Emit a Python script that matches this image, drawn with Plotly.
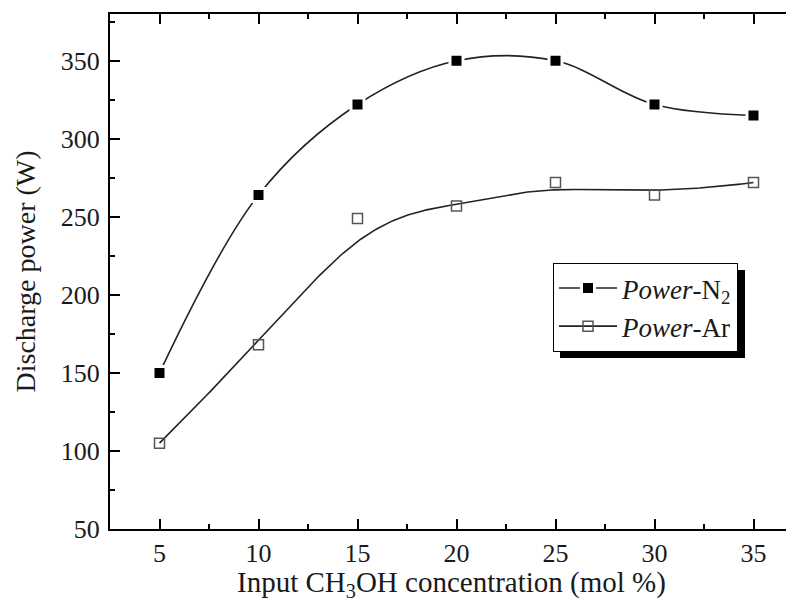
import numpy as np
import plotly.graph_objects as go

# ---- data ----
concentration = [5, 10, 15, 20, 25, 30, 35]
power_n2 = [150, 264, 322, 350, 350, 322, 315]
power_ar = [105, 168, 249, 257, 272, 264, 272]

x_ticks = [5, 10, 15, 20, 25, 30, 35]
y_ticks = [50, 100, 150, 200, 250, 300, 350]

FONT = "Liberation Serif, Times New Roman, serif"
INK = "#1a1a1a"


def bspline_curve(cx, cy, n=300, k=3):
    """Clamped uniform cubic B-spline with the data points as control points
    (the 'B-Spline' connection used for the Ar series in the original)."""
    cx = np.asarray(cx, float)
    cy = np.asarray(cy, float)
    m = len(cx)
    U = [0.0] * k + [float(v) for v in range(m - k + 1)] + [float(m - k)] * k
    t = np.linspace(0, m - k, n)

    def basis(i, p):
        if p == 0:
            res = ((U[i] <= t) & (t < U[i + 1])).astype(float)
            if U[i + 1] == U[-1] and U[i] < U[i + 1]:
                res[t == U[-1]] = 1.0
            return res
        out = np.zeros_like(t)
        d1 = U[i + p] - U[i]
        if d1 > 0:
            out += (t - U[i]) / d1 * basis(i, p - 1)
        d2 = U[i + p + 1] - U[i + 1]
        if d2 > 0:
            out += (U[i + p + 1] - t) / d2 * basis(i + 1, p - 1)
        return out

    Bm = np.array([basis(i, k) for i in range(m)])
    return Bm.T @ cx, Bm.T @ cy


ar_x, ar_y = bspline_curve(concentration, power_ar)

n2_marker = dict(symbol="square", size=13, color="black",
                 line=dict(color="white", width=3))
ar_marker = dict(symbol="square-open", size=10, color="#555",
                 line=dict(width=1.5))
line_style = dict(color="#222", width=1.6)

fig = go.Figure()

# N2: smooth interpolating spline through the points, with markers
fig.add_trace(go.Scatter(
    x=concentration, y=power_n2, mode="lines+markers",
    name="<i>Power</i>-N<sub>2</sub>",
    line=dict(shape="spline", smoothing=1.0, **line_style),
    marker=n2_marker))

# Ar: B-spline connection line + markers (legend entry via a proxy)
fig.add_trace(go.Scatter(
    x=ar_x, y=ar_y, mode="lines", line=line_style,
    showlegend=False, hoverinfo="skip"))
fig.add_trace(go.Scatter(
    x=concentration, y=power_ar, mode="markers", name="Power-Ar",
    marker=ar_marker, showlegend=False))
fig.add_trace(go.Scatter(
    x=[None], y=[None], mode="lines+markers", name="<i>Power</i>-Ar",
    line=line_style, marker=ar_marker))

# page offset of the figure (body margin) is 8 px
W, H = 778, 595
L, T, B_ = 102, 6, 74
pw, ph = W - L, H - T - B_


def px_x(page_x):
    return (page_x - 8 - L) / pw


def px_y(page_y):
    return (H - B_ - (page_y - 8)) / ph


# legend drop shadow
fig.add_shape(type="rect", xref="paper", yref="paper",
              x0=px_x(560), x1=px_x(745), y0=px_y(358), y1=px_y(270),
              fillcolor="black", line=dict(width=0), layer="above")

# x-axis title placed as low as the reference (axis titles are clamped
# inside the margin, so it is drawn as a paper annotation)
fig.add_annotation(
    text="Input CH<sub>3</sub>OH concentration (mol %)",
    xref="paper", yref="paper", x=px_x(451.5), y=px_y(603),
    xanchor="center", yanchor="bottom", showarrow=False, borderpad=0,
    font=dict(family=FONT, size=29, color=INK))

axis_common = dict(
    showgrid=False, zeroline=False, showline=True, linecolor="black",
    linewidth=2, ticks="inside", ticklen=10, tickwidth=2, tickcolor="black",
    tickfont=dict(family=FONT, size=26, color=INK),
)

x_right = 2.5 + pw / 19.8

fig.update_xaxes(
    range=[2.5, x_right], tickmode="array", tickvals=x_ticks,
    ticktext=[str(v) for v in x_ticks], mirror="ticks",
    minor=dict(ticks="inside", ticklen=5, tickwidth=2, tickcolor="black",
               tickmode="array", tickvals=[7.5, 12.5, 17.5, 22.5, 27.5, 32.5]),
    **axis_common)
fig.update_yaxes(
    range=[50, 380], tickmode="array", tickvals=y_ticks,
    ticktext=[str(v) for v in y_ticks], mirror=False, ticklabelstandoff=3,
    minor=dict(ticks="inside", ticklen=5, tickwidth=2, tickcolor="black",
               tickmode="array", tickvals=[75, 125, 175, 225, 275, 325, 375]),
    title=dict(text="Discharge power (W)",
               font=dict(family=FONT, size=28, color=INK), standoff=17),
    **axis_common)

fig.update_layout(
    width=W, height=H,
    margin=dict(l=L, r=0, t=T, b=B_, autoexpand=False),
    paper_bgcolor="white", plot_bgcolor="white",
    font=dict(family=FONT, color=INK),
    legend=dict(x=px_x(553), y=px_y(263), xanchor="left", yanchor="top",
                bgcolor="white", bordercolor="black", borderwidth=1,
                font=dict(family=FONT, size=27, color=INK),
                itemwidth=58, tracegroupgap=0),
)

fig.write_html("out.html")
